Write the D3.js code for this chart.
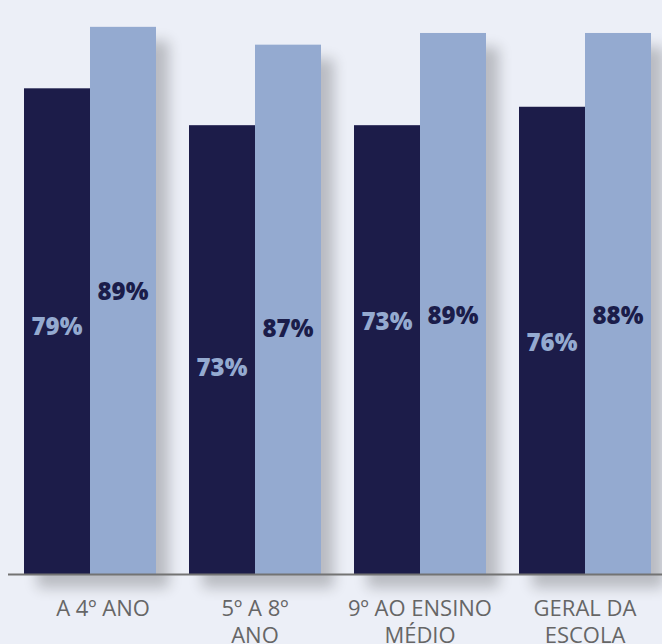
<!DOCTYPE html>
<html>
<head>
<meta charset="utf-8">
<script src="https://cdn.jsdelivr.net/npm/d3@7"></script>
<style>
  html, body { margin: 0; padding: 0; background: #eceff7; }
  svg { display: block; }
</style>
</head>
<body>
<div id="chart"></div>
<script>
// data
var categories = ["A 4º ANO", "5º A 8º|ANO", "9º AO ENSINO|MÉDIO", "GERAL DA|ESCOLA"];
var seriesA = [79, 73, 73, 76];        // dark bars
var seriesB = [89, 86.1, 88, 88];      // light bars
var labelsA = ["79%", "73%", "73%", "76%"];
var labelsB = ["89%", "87%", "89%", "88%"];

// where the value labels sit, in axis units (layout, not data)
var labelLevelA = [40.2, 33.5, 41.1, 37.7];
var labelLevelB = [46.0, 39.9, 42.1, 42.0];

var width = 662, height = 644, baseY = 574;
var darkColor = "#1b1d4a", lightColor = "#94aad0";

var svg = d3.select("#chart").append("svg")
    .attr("width", width)
    .attr("height", height)
    .style("background-color", "#eceff7");

// drop shadow behind each pair of bars
var defs = svg.append("defs");
var filter = defs.append("filter")
    .attr("id", "shadow")
    .attr("x", "-30%").attr("y", "-10%")
    .attr("width", "170%").attr("height", "135%");
filter.append("feGaussianBlur").attr("in", "SourceAlpha").attr("stdDeviation", 7);
filter.append("feOffset").attr("dx", 13).attr("dy", 14).attr("result", "off");
filter.append("feComponentTransfer").append("feFuncA").attr("type", "linear").attr("slope", 0.22);
var merge = filter.append("feMerge");
merge.append("feMergeNode");
merge.append("feMergeNode").attr("in", "SourceGraphic");

var x0 = d3.scaleBand()
    .domain(categories)
    .range([7.5, 667.5])
    .paddingInner(0.2)
    .paddingOuter(0.1);

var x1 = d3.scaleBand()
    .domain(["a", "b"])
    .range([0, x0.bandwidth()]);

var y = d3.scaleLinear()
    .domain([0, 100])
    .range([baseY, baseY - 614.8]);

var rows = categories.map(function(c, i) {
  return {
    cat: c,
    bars: [
      {key: "a", value: seriesA[i], label: labelsA[i], level: labelLevelA[i], fill: darkColor, text: lightColor},
      {key: "b", value: seriesB[i], label: labelsB[i], level: labelLevelB[i], fill: lightColor, text: darkColor}
    ]
  };
});

var groups = svg.selectAll("g.group")
  .data(rows)
  .enter().append("g")
    .attr("class", "group")
    .attr("transform", function(d) { return "translate(" + x0(d.cat) + ",0)"; });

groups.append("g")
    .attr("filter", "url(#shadow)")
  .selectAll("rect")
  .data(function(d) { return d.bars; })
  .enter().append("rect")
    .attr("x", function(d) { return x1(d.key); })
    .attr("y", function(d) { return y(d.value); })
    .attr("width", x1.bandwidth())
    .attr("height", function(d) { return baseY - y(d.value); })
    .attr("fill", function(d) { return d.fill; });

groups.selectAll("text.val")
  .data(function(d) { return d.bars; })
  .enter().append("text")
    .attr("class", "val")
    .attr("x", function(d) { return x1(d.key) + x1.bandwidth() / 2; })
    .attr("y", function(d) { return y(d.level); })
    .attr("dy", "0.35em")
    .attr("text-anchor", "middle")
    .style("font-family", "'Open Sans', sans-serif")
    .style("font-weight", "800")
    .style("font-size", "24px")
    .style("fill", function(d) { return d.text; })
    .text(function(d) { return d.label; });

// category axis
var xAxis = svg.append("g")
    .attr("transform", "translate(0," + baseY + ")")
    .call(d3.axisBottom(x0).tickSize(0).tickSizeOuter(0).tickPadding(0));

xAxis.select(".domain")
    .attr("stroke", "#737373")
    .attr("stroke-width", 2);

xAxis.selectAll(".tick text").each(function(d, i) {
  var t = d3.select(this).text(null)
      .attr("y", 42)
      .attr("dy", null)
      .attr("x", i === 0 ? 13 : 0)
      .style("font-family", "'Open Sans', sans-serif")
      .style("font-size", "22px")
      .style("fill", "#666666");
  d.split("|").forEach(function(line, j) {
    t.append("tspan")
      .attr("x", i === 0 ? 13 : 0)
      .attr("dy", j === 0 ? 0 : 27)
      .text(line);
  });
});
</script>
</body>
</html>
